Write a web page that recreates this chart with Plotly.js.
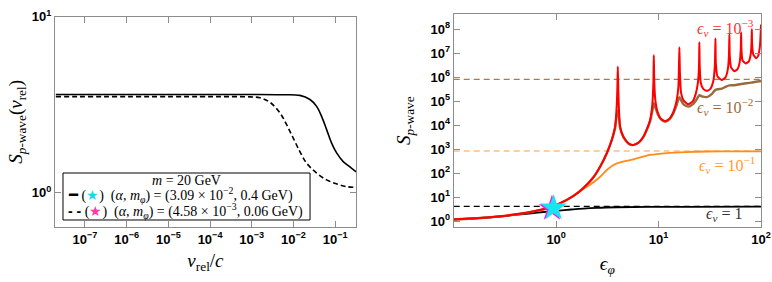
<!DOCTYPE html>
<html>
<head>
<meta charset="utf-8">
<script src="https://cdn.plot.ly/plotly-3.0.1.min.js"></script>
<style>html,body{margin:0;padding:0;background:#fff}#chart{width:772px;height:282px}</style>
</head>
<body>
<div id="chart"></div>
<script>
// ---------- Left panel: S_p-wave vs v_rel/c ----------
const vSolid = [2e-8, 1e-4, 1e-3, 5e-3, 0.0143, 0.0249, 0.036, 0.0474, 0.0625, 0.0824, 0.1086, 0.156, 0.2265, 0.32];
const sSolid = [3.61, 3.61, 3.61, 3.60, 3.57, 3.38, 3.09, 2.71, 2.28, 1.91, 1.68, 1.50, 1.40, 1.31];
const vDashed = [2e-8, 1e-4, 9e-4, 1.574e-3, 2.735e-3, 4.74e-3, 6.87e-3, 9.89e-3, 0.0143, 0.0207, 0.036, 0.0625, 0.1086, 0.1888, 0.32];
const sDashed = [3.51, 3.51, 3.50, 3.46, 3.26, 2.84, 2.43, 2.04, 1.71, 1.47, 1.29, 1.18, 1.12, 1.08, 1.07];
const legendTitle = '<i>m</i> = 20 GeV';
const legendSolid = '<span style="font-family:DejaVu Sans Mono;font-size:15px">━</span> (<span style="color:#16dbe8">★</span>)  (<i>α</i>, <i>m<sub>φ</sub></i>) = (3.09 × 10<sup>−2</sup>, 0.4 GeV)';
const legendDashed = '<span style="font-family:Liberation Sans;font-weight:bold">- -</span> (<span style="color:#ff3aa8">★</span>)  (<i>α</i>, <i>m<sub>φ</sub></i>) = (4.58 × 10<sup>−3</sup>, 0.06 GeV)';
const leftXTicks = [1e-7, 1e-6, 1e-5, 1e-4, 1e-3, 1e-2, 1e-1];
const leftXLabels = ['10<sup>−7</sup>', '10<sup>−6</sup>', '10<sup>−5</sup>', '10<sup>−4</sup>', '10<sup>−3</sup>', '10<sup>−2</sup>', '10<sup>−1</sup>'];
const leftYTicks = [1, 10];
const leftYLabels = ['10<sup>0</sup>', '10<sup>1</sup>'];

// ---------- Right panel: S_p-wave vs eps_phi ----------
const epsBlack = [0.1, 0.2, 0.3, 0.45, 0.6, 0.8, 1.0, 1.4, 1.84, 2.5, 3.9, 8, 20, 100];
const sBlack = [1.2, 1.4, 1.6, 1.95, 2.2, 2.5, 2.72, 3.1, 3.4, 3.65, 3.85, 3.98, 4.02, 4.05];
const epsOrange = [0.1, 0.194, 0.412, 0.647, 0.871, 1.09, 1.47, 1.84, 2.14, 2.69, 3.12, 3.63, 4.21, 5.66, 8.26, 12, 18.6, 30, 50, 100];
const sOrange = [1.2, 1.41, 1.96, 2.76, 3.83, 5.6, 11, 22, 33, 72, 137, 222, 288, 380, 580, 700, 770, 810, 820, 825];
const epsBrown = [0.1, 0.194, 0.412, 0.647, 0.871, 1.09, 1.47, 1.84, 2.31, 2.69, 3.12, 3.49, 3.76, 3.9, 4.0, 4.1, 4.21, 4.53, 5.07, 5.6, 6.35, 7.11, 7.85, 8.26, 8.7, 8.98, 9.3, 9.8, 10.5, 11.6, 12.8, 14, 15, 15.96, 16.6, 17.5, 19.5, 21.5, 23.5, 25, 26.5, 29.6, 33, 35.9, 38, 41.4, 45, 49, 55, 64, 80, 100];
const sBrown = [1.2, 1.41, 1.96, 2.76, 3.83, 5.6, 11.3, 24, 68, 190, 680, 2400, 7500, 2.6e4, 4e4, 2.2e4, 8000, 3300, 1760, 1500, 1860, 3300, 8300, 1.45e4, 4e4, 8.3e4, 5.5e4, 3e4, 1.8e4, 1.4e4, 1.8e4, 3.3e4, 7e4, 1.5e5, 1.1e5, 7.5e4, 6e4, 7.5e4, 1.2e5, 1.8e5, 1.6e5, 1.5e5, 2e5, 3e5, 3.2e5, 3.4e5, 4e5, 4.6e5, 4.7e5, 5.3e5, 6e5, 7e5];
const epsRed = [0.1, 0.194, 0.412, 0.647, 0.871, 1.09, 1.47, 1.84, 2.31, 2.69, 3.12, 3.49, 3.76, 3.9, 3.96, 4.0, 4.05, 4.1, 4.21, 4.53, 5.07, 5.6, 6.35, 7.11, 7.85, 8.26, 8.7, 8.9, 8.98, 9.08, 9.3, 9.8, 10.5, 11.6, 12.8, 14.0, 15.0, 15.6, 15.96, 16.15, 16.6, 17.5, 19.5, 21.5, 23, 24.2, 24.8, 25.0, 25.2, 25.8, 27.3, 29.6, 32, 34.2, 35.4, 35.9, 36.2, 37.5, 41.4, 45, 47.5, 48.6, 49.1, 49.5, 51, 55, 59, 62, 63.4, 63.9, 64.4, 66, 71, 76, 79.5, 80.8, 81.3, 81.8, 84, 89.5, 94, 97.5, 100];
const sRed = [1.2, 1.41, 1.96, 2.76, 3.83, 5.6, 11.3, 24, 68, 190, 680, 2450, 8700, 6.3e4, 4e5, 2.8e6, 2.5e5, 5e4, 8700, 3350, 1780, 1510, 1880, 3350, 8700, 1.66e4, 8e4, 6.3e5, 8.5e6, 6e5, 1.1e5, 3.5e4, 1.9e4, 1.5e4, 1.9e4, 3.8e4, 1.1e5, 4e5, 1.8e7, 1.6e6, 2.2e5, 1.1e5, 7.5e4, 1e5, 2e5, 6e5, 3e6, 2.9e7, 3e6, 6e5, 3.3e5, 2.75e5, 3.3e5, 7e5, 3e6, 4.2e7, 4e6, 1.1e6, 7.8e5, 1e6, 2.3e6, 8e6, 6.2e7, 8e6, 2.6e6, 1.8e6, 2.2e6, 4.5e6, 1.5e7, 7.5e7, 1.4e7, 5e6, 3.8e6, 4.6e6, 1e7, 3e7, 1e8, 2.5e7, 9e6, 6.3e6, 8e6, 2e7, 1.6e8];
const epsLimits = [0.1, 100];
const limitBlack = 4.2, limitOrange = 850, limitBrown = 8.3e5;
const starMagenta = {eps: [0.91], s: [3.42]};
const starCyan = {eps: [0.945], s: [3.62]};
const rightXTicks = [1, 10, 100];
const rightXLabels = ['10<sup>0</sup>', '10<sup>1</sup>', '10<sup>2</sup>'];
const rightYTicks = [1, 10, 100, 1e3, 1e4, 1e5, 1e6, 1e7, 1e8];
const rightYLabels = ['10<sup>0</sup>', '10<sup>1</sup>', '10<sup>2</sup>', '10<sup>3</sup>', '10<sup>4</sup>', '10<sup>5</sup>', '10<sup>6</sup>', '10<sup>7</sup>', '10<sup>8</sup>'];
const curveLabels = ['<i>ϵ<sub>v</sub></i> = 10<sup>−3</sup>', '<i>ϵ<sub>v</sub></i> = 10<sup>−2</sup>', '<i>ϵ<sub>v</sub></i> = 10<sup>−1</sup>', '<i>ϵ<sub>v</sub></i> = 1'];

const C = {red: '#ff0000', brown: '#9a6a3c', brownDash: '#b07a48', orange: '#ff8c1a', orangeDash: '#ffa040', black: '#000000', cyan: '#16e6f0', magenta: '#ee22ee'};

// minor (unlabelled) log tick positions between decades
function minorTicks(d0, d1) {
  const out = [];
  for (let d = d0; d <= d1; d++) for (let k = 2; k <= 9; k++) out.push(k * Math.pow(10, d));
  return out;
}

const traces = [
  {x: vSolid, y: sSolid, xaxis: 'x', yaxis: 'y', mode: 'lines', fill: 'none', name: 'solid', showlegend: false, line: {color: '#000', width: 1.6, shape: 'spline', smoothing: 1}},
  {x: vDashed, y: sDashed, xaxis: 'x', yaxis: 'y', mode: 'lines', fill: 'none', name: 'dashed', showlegend: false, line: {color: '#000', width: 1.6, dash: '5px,3px', shape: 'spline', smoothing: 1}},
  {x: epsLimits, y: [limitBlack, limitBlack], xaxis: 'x2', yaxis: 'y2', mode: 'lines', showlegend: false, line: {color: '#000', width: 1.2, dash: '6px,4px'}},
  {x: epsLimits, y: [limitOrange, limitOrange], xaxis: 'x2', yaxis: 'y2', mode: 'lines', showlegend: false, line: {color: C.orangeDash, width: 1.2, dash: '6px,4px'}},
  {x: epsLimits, y: [limitBrown, limitBrown], xaxis: 'x2', yaxis: 'y2', mode: 'lines', showlegend: false, line: {color: C.brownDash, width: 1.2, dash: '6px,4px'}},
  {x: epsBlack, y: sBlack, xaxis: 'x2', yaxis: 'y2', mode: 'lines', showlegend: false, line: {color: C.black, width: 1.8, shape: 'spline', smoothing: 1}},
  {x: epsOrange, y: sOrange, xaxis: 'x2', yaxis: 'y2', mode: 'lines', showlegend: false, line: {color: C.orange, width: 1.8, shape: 'spline', smoothing: 0.8}},
  {x: epsBrown, y: sBrown, xaxis: 'x2', yaxis: 'y2', mode: 'lines', showlegend: false, line: {color: C.brown, width: 2.4, shape: 'spline', smoothing: 0.6}},
  {x: epsRed, y: sRed, xaxis: 'x2', yaxis: 'y2', mode: 'lines', showlegend: false, line: {color: C.red, width: 2, shape: 'spline', smoothing: 0.5}},
  {x: starMagenta.eps, y: starMagenta.s, xaxis: 'x2', yaxis: 'y2', mode: 'markers', showlegend: false, marker: {symbol: 'star', size: 20, color: C.magenta, line: {width: 0}}},
  {x: starCyan.eps, y: starCyan.s, xaxis: 'x2', yaxis: 'y2', mode: 'markers', showlegend: false, marker: {symbol: 'star', size: 20, color: C.cyan, line: {width: 0}}}
];

const tickFont = {family: 'Liberation Sans, Arial, sans-serif', size: 13, color: '#000', weight: 'bold'};
const frame = '#8c8c8c';
function logAxis(extra) {
  return Object.assign({
    type: 'log', tickmode: 'array', ticks: 'inside', ticklen: 6, tickwidth: 1, tickcolor: frame,
    showline: true, linecolor: frame, linewidth: 1, mirror: 'ticks', showgrid: false, zeroline: false,
    tickfont: tickFont, automargin: false, autorange: false
  }, extra);
}
function minorAxis(extra) {
  return Object.assign({
    type: 'log', tickmode: 'array', ticks: 'inside', ticklen: 4, tickwidth: 1, tickcolor: frame,
    showline: false, mirror: 'ticks', showgrid: false, zeroline: false, showticklabels: false,
    automargin: false, autorange: false
  }, extra);
}

const layout = {
  width: 772, height: 282, margin: {l: 0, r: 0, t: 0, b: 0},
  paper_bgcolor: '#ffffff', plot_bgcolor: '#ffffff',
  font: {family: 'Liberation Serif, Times New Roman, serif', color: '#000'},
  showlegend: false,
  xaxis: logAxis({domain: [0.0712, 0.4611], range: [-7.72, -0.5], anchor: 'y', tickvals: leftXTicks, ticktext: leftXLabels,
    title: {text: '<i>v</i><sub>rel</sub>/<i>c</i>', font: {size: 19}, standoff: 8}}),
  yaxis: logAxis({domain: [0.195, 0.9408], range: [-0.196, 1], anchor: 'x', tickvals: leftYTicks, ticktext: leftYLabels,
    title: {text: '<i>S</i><sub><i>p</i>-wave</sub>(<i>v</i><sub>rel</sub>)', font: {size: 19}, standoff: 4}}),
  xaxis2: logAxis({domain: [0.5877, 0.9858], range: [-1, 2], anchor: 'y2', tickvals: rightXTicks, ticktext: rightXLabels,
    title: {text: '<i>ϵ<sub>φ</sub></i>', font: {size: 19}, standoff: 10}}),
  yaxis2: logAxis({domain: [0.194, 0.9504], range: [-0.25, 8.64], anchor: 'x2', tickvals: rightYTicks, ticktext: rightYLabels,
    title: {text: '<i>S</i><sub><i>p</i>-wave</sub>', font: {size: 19}, standoff: 14}}),
  xaxis3: minorAxis({overlaying: 'x', anchor: 'y', range: [-7.72, -0.5], tickvals: minorTicks(-8, -1)}),
  yaxis3: minorAxis({overlaying: 'y', anchor: 'x', range: [-0.196, 1], tickvals: minorTicks(-1, 0), ticklen: 5}),
  xaxis4: minorAxis({overlaying: 'x2', anchor: 'y2', range: [-1, 2], tickvals: minorTicks(-1, 1)}),
  yaxis4: minorAxis({overlaying: 'y2', anchor: 'x2', range: [-0.25, 8.64], tickvals: minorTicks(-1, 8)}),
  shapes: [
    {type: 'rect', xref: 'paper', yref: 'paper', x0: 0.0816, x1: 0.4016, y0: 0.2199, y1: 0.3865,
     line: {color: '#000', width: 1}, fillcolor: '#ffffff', layer: 'above'}
  ],
  annotations: [
    {xref: 'paper', yref: 'paper', x: 0.2416, y: 0.3617, xanchor: 'center', yanchor: 'middle', text: legendTitle, showarrow: false, font: {size: 14}},
    {xref: 'paper', yref: 'paper', x: 0.0855, y: 0.3085, xanchor: 'left', yanchor: 'middle', text: legendSolid, showarrow: false, font: {size: 14}},
    {xref: 'paper', yref: 'paper', x: 0.0855, y: 0.2515, xanchor: 'left', yanchor: 'middle', text: legendDashed, showarrow: false, font: {size: 14}},
    {xref: 'paper', yref: 'paper', x: 0.9404, y: 0.9007, xanchor: 'center', yanchor: 'middle', text: curveLabels[0], showarrow: false, font: {size: 16, color: '#ff3030'}},
    {xref: 'paper', yref: 'paper', x: 0.9391, y: 0.6206, xanchor: 'center', yanchor: 'middle', text: curveLabels[1], showarrow: false, font: {size: 16, color: '#9a6a3c'}},
    {xref: 'paper', yref: 'paper', x: 0.9417, y: 0.4149, xanchor: 'center', yanchor: 'middle', text: curveLabels[2], showarrow: false, font: {size: 16, color: '#ff9a30'}},
    {xref: 'paper', yref: 'paper', x: 0.9378, y: 0.2376, xanchor: 'center', yanchor: 'middle', text: curveLabels[3], showarrow: false, font: {size: 16, color: '#333'}}
  ]
};

Plotly.newPlot('chart', traces, layout, {displayModeBar: false, staticPlot: true});
</script>
</body>
</html>
